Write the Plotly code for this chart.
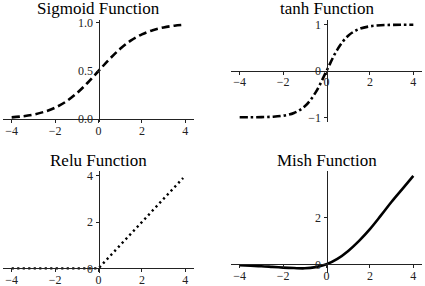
import plotly.graph_objects as go

W, H = 425, 286

# ---- data ----
x_grid = [-4, -3.5, -3, -2.5, -2, -1.5, -1, -0.5, 0, 0.5, 1, 1.5, 2, 2.5, 3, 3.5, 4]
sigmoid_y = [0.018, 0.029, 0.047, 0.076, 0.119, 0.182, 0.269, 0.378, 0.5,
             0.622, 0.731, 0.818, 0.881, 0.924, 0.953, 0.971, 0.982]
tanh_y = [-0.999, -0.998, -0.995, -0.987, -0.964, -0.905, -0.762, -0.462, 0.0,
          0.462, 0.762, 0.905, 0.964, 0.987, 0.995, 0.998, 0.999]
relu_x = [-4, 0, 3.9]
relu_y = [0, 0, 3.9]
mish_y = [-0.04, -0.06, -0.08, -0.11, -0.14, -0.16, -0.17, -0.12, 0.0,
          0.23, 0.57, 1.0, 1.5, 2.07, 2.66, 3.21, 3.76]

x_ticks = [-4, -2, 0, 2, 4]
x_ticktext = ["\u22124", "\u22122", "0", "2", "4"]

panels = [
    dict(title="Sigmoid Function", x=x_grid, y=sigmoid_y, dash="8px,4px", width=2.6,
         xpx=(3, 194), ypx=(20, 122), xr=[-4.4, 4.4], yr=[-0.03, 1.03],
         yticks=[0, 0.5, 1.0], ytext=["0.0", "0.5", "1.0"], shape="spline"),
    dict(title="tanh Function", x=x_grid, y=tanh_y, dash="8px,3px,2.5px,3px", width=2.6,
         xpx=(231, 422), ypx=(20, 122), xr=[-4.4, 4.4], yr=[-1.1, 1.1],
         yticks=[-1, 0, 1], ytext=["\u22121", "0", "1"], shape="spline"),
    dict(title="Relu Function", x=relu_x, y=relu_y, dash="2.2px,3.3px", width=2.4,
         xpx=(3, 194), ypx=(171, 273), xr=[-4.4, 4.4], yr=[-0.2, 4.2],
         yticks=[0, 2, 4], ytext=["0", "2", "4"], shape="linear"),
    dict(title="Mish Function", x=x_grid, y=mish_y, dash="solid", width=2.6,
         xpx=(231, 422), ypx=(171, 273), xr=[-4.4, 4.4], yr=[-0.37, 3.97],
         yticks=[0, 2], ytext=["0", "2"], shape="spline"),
]

FONT = "Liberation Serif, Times New Roman, serif"
fig = go.Figure()
layout = {}
annotations = []
title_centers_px = [9, 9, 160, 160]

for i, p in enumerate(panels, start=1):
    xa = "x" if i == 1 else f"x{i}"
    ya = "y" if i == 1 else f"y{i}"
    xdom = [p["xpx"][0] / W, p["xpx"][1] / W]
    ydom = [1 - p["ypx"][1] / H, 1 - p["ypx"][0] / H]
    # position of data zero in paper coordinates
    x0_paper = xdom[0] + (0 - p["xr"][0]) / (p["xr"][1] - p["xr"][0]) * (xdom[1] - xdom[0])
    y0_paper = ydom[0] + (0 - p["yr"][0]) / (p["yr"][1] - p["yr"][0]) * (ydom[1] - ydom[0])

    fig.add_trace(go.Scatter(
        x=p["x"], y=p["y"], mode="lines", xaxis=xa, yaxis=ya,
        line=dict(color="black", width=p["width"], dash=p["dash"], shape=p["shape"],
                  smoothing=1.0),
        showlegend=False, hoverinfo="skip"))

    common = dict(showgrid=False, zeroline=False, showline=True, linecolor="#222",
                  linewidth=1, ticks="outside", ticklen=3, tickwidth=1, tickcolor="#222",
                  tickfont=dict(family=FONT, size=12, color="#222"), fixedrange=True,
                  automargin=False)
    layout[("xaxis" if i == 1 else f"xaxis{i}")] = dict(
        common, domain=xdom, range=p["xr"], anchor="free", position=y0_paper,
        tickmode="array", tickvals=x_ticks, ticktext=x_ticktext, ticklabelstandoff=-3)
    layout[("yaxis" if i == 1 else f"yaxis{i}")] = dict(
        common, domain=ydom, range=p["yr"], anchor="free", position=x0_paper,
        tickmode="array", tickvals=p["yticks"], ticktext=p["ytext"])

    annotations.append(dict(
        text=p["title"], xref="paper", yref="paper",
        x=(xdom[0] + xdom[1]) / 2, y=1 - title_centers_px[i - 1] / H,
        xanchor="center", yanchor="middle", showarrow=False,
        font=dict(family=FONT, size=17, color="black")))

fig.update_layout(
    width=W, height=H, margin=dict(l=0, r=0, t=0, b=0, pad=0, autoexpand=False),
    paper_bgcolor="white", plot_bgcolor="white",
    annotations=annotations, **layout)

fig.write_html("out.html", config={"displayModeBar": False, "staticPlot": True},
               post_script="document.body.style.margin='0';document.body.style.padding='0';")
